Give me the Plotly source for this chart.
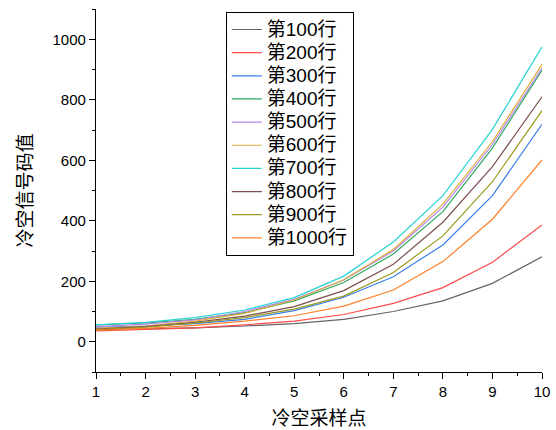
import plotly.graph_objects as go

x_points = [1, 2, 3, 4, 5, 6, 7, 8, 9, 10]
series_names = ["第100行", "第200行", "第300行", "第400行", "第500行",
                "第600行", "第700行", "第800行", "第900行", "第1000行"]
row100 = [40, 42, 46, 52, 60, 74, 100, 135, 193, 281]
row200 = [36, 40, 46, 56, 68, 90, 127, 179, 263, 386]
row300 = [48, 52, 60, 74, 103, 147, 215, 320, 483, 719]
row400 = [56, 62, 74, 96, 135, 196, 290, 430, 640, 898]
row500 = [50, 58, 72, 100, 140, 204, 300, 445, 652, 905]
row600 = [44, 52, 68, 94, 138, 205, 305, 455, 662, 917]
row700 = [56, 64, 80, 105, 146, 217, 330, 483, 702, 975]
row800 = [42, 50, 64, 85, 116, 169, 256, 395, 579, 810]
row900 = [40, 48, 62, 80, 108, 151, 229, 350, 529, 764]
row1000 = [38, 44, 54, 68, 86, 118, 171, 265, 405, 601]
all_rows = [row100, row200, row300, row400, row500, row600, row700, row800, row900, row1000]
colors = ["#666666", "#ff4b4b", "#3a7fe8", "#2ea860", "#b583e8",
          "#dcae3c", "#27d3d3", "#7d4f4f", "#9a9a1e", "#ff7f2a"]

font_family = "Arial, Liberation Sans, Noto Sans CJK SC"

fig = go.Figure()
for name, vals, c in zip(series_names, all_rows, colors):
    fig.add_trace(go.Scatter(x=x_points, y=vals, mode="lines",
                             name='<span style="font-size:19px">' + name + '</span>',
                             line=dict(color=c, width=1.2)))

fig.update_layout(
    width=556, height=430,
    margin=dict(l=96, r=14, t=9, b=58, autoexpand=False),
    plot_bgcolor="white", paper_bgcolor="white",
    font=dict(family=font_family, size=15, color="black"),
    showlegend=True,
    legend=dict(x=0.291, y=0.992, xanchor="left", yanchor="top",
                bordercolor="black", borderwidth=1, bgcolor="white",
                maxheight=1.0,
                font=dict(size=15.5, family=font_family)),
    xaxis=dict(range=[1, 10], dtick=1, tick0=1, showline=True, linecolor="black",
               linewidth=1.2, ticks="outside", ticklen=6, tickcolor="black",
               showgrid=False, zeroline=False, automargin=False,
               minor=dict(dtick=0.5, ticks="outside", ticklen=3, tickcolor="black"),
               title=dict(text="冷空采样点", font=dict(size=19), standoff=12)),
    yaxis=dict(range=[-100, 1100], dtick=200, tick0=0, showline=True, linecolor="black",
               linewidth=1.2, ticks="outside", ticklen=6, tickcolor="black",
               showgrid=False, zeroline=False, automargin=False,
               minor=dict(dtick=100, ticks="outside", ticklen=3, tickcolor="black"),
               title=dict(text="冷空信号码值", font=dict(size=19), standoff=14)),
)

fig.write_html("out.html", config={"displayModeBar": False},
               post_script="document.body.style.margin='0';document.body.style.overflow='hidden';")
